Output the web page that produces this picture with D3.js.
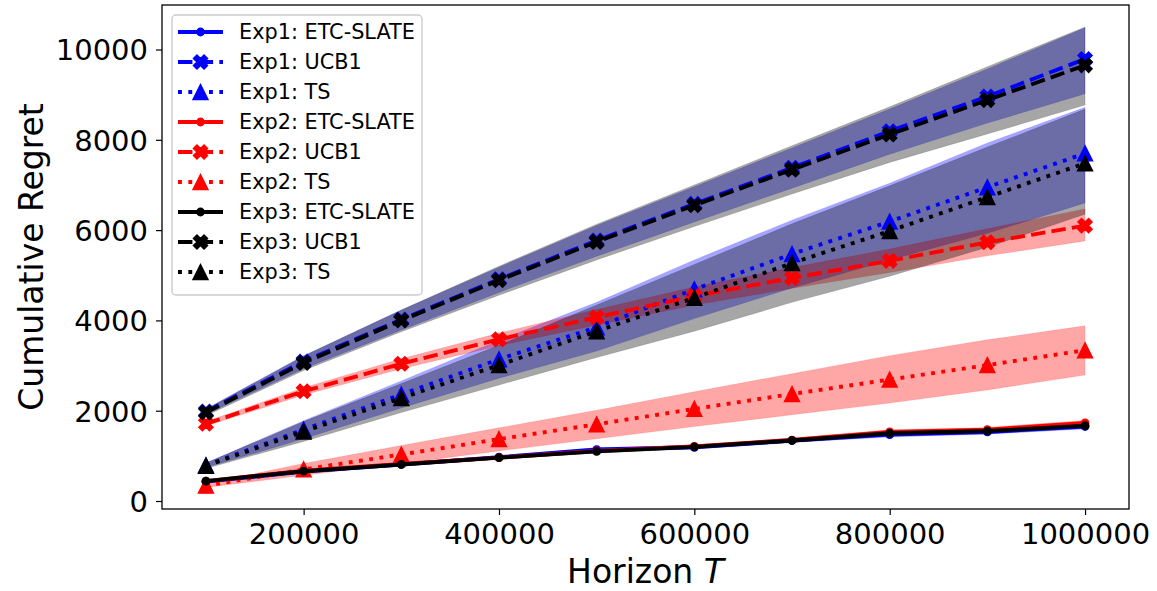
<!DOCTYPE html>
<html>
<head>
<meta charset="utf-8">
<script src="https://cdn.jsdelivr.net/npm/d3@7/dist/d3.min.js"></script>
<style>
  body { margin: 0; background: #fff; }
  text { font-family: "DejaVu Sans", sans-serif; }
</style>
</head>
<body>
<svg id="chart" width="1157" height="591"></svg>
<script>
// horizon values and ticks
var horizons = [100000, 200000, 300000, 400000, 500000, 600000, 700000, 800000, 900000, 1000000];
var xTicks = [200000, 400000, 600000, 800000, 1000000];
var yTicks = [0, 2000, 4000, 6000, 8000, 10000];

// Exp1
var exp1EtcMean = [430, 650, 810, 970, 1140, 1190, 1340, 1470, 1530, 1650];
var exp1EtcLo   = [410, 625, 780, 935, 1100, 1150, 1295, 1420, 1480, 1595];
var exp1EtcHi   = [450, 675, 840, 1005, 1180, 1230, 1385, 1520, 1580, 1705];
var exp1UcbMean = [1980, 3090, 4020, 4910, 5770, 6580, 7380, 8190, 8960, 9790];
var exp1UcbLo   = [1920, 2930, 3790, 4620, 5420, 6180, 6930, 7680, 8370, 9020];
var exp1UcbHi   = [2040, 3220, 4230, 5180, 6100, 6960, 7820, 8680, 9570, 10480];
var exp1TsMean  = [790, 1580, 2360, 3140, 3850, 4690, 5470, 6190, 6950, 7700];
var exp1TsLo    = [740, 1380, 2060, 2720, 3320, 4040, 4720, 5340, 5930, 6600];
var exp1TsHi    = [840, 1780, 2660, 3560, 4400, 5340, 6220, 7040, 7930, 8720];

// Exp2
var exp2EtcMean = [440, 670, 820, 960, 1110, 1210, 1350, 1530, 1580, 1730];
var exp2EtcLo   = [420, 645, 790, 925, 1070, 1170, 1305, 1480, 1530, 1675];
var exp2EtcHi   = [460, 695, 850, 995, 1150, 1250, 1395, 1580, 1630, 1785];
var exp2UcbMean = [1710, 2430, 3040, 3580, 4070, 4540, 4940, 5320, 5730, 6100];
var exp2UcbLo   = [1660, 2350, 2930, 3440, 3900, 4340, 4710, 5060, 5430, 5760];
var exp2UcbHi   = [1760, 2510, 3150, 3720, 4240, 4740, 5170, 5580, 6030, 6470];
var exp2TsMean  = [340, 700, 1030, 1370, 1700, 2040, 2370, 2690, 3010, 3340];
var exp2TsLo    = [300, 570, 830, 1110, 1380, 1650, 1910, 2170, 2460, 2790];
var exp2TsHi    = [380, 830, 1230, 1620, 2010, 2420, 2820, 3220, 3570, 3880];

// Exp3
var exp3EtcMean = [440, 660, 810, 960, 1100, 1200, 1340, 1500, 1550, 1670];
var exp3EtcLo   = [420, 635, 780, 925, 1060, 1160, 1295, 1450, 1500, 1615];
var exp3EtcHi   = [460, 685, 840, 995, 1140, 1240, 1385, 1550, 1600, 1725];
var exp3UcbMean = [1960, 3060, 4000, 4890, 5740, 6550, 7340, 8120, 8880, 9650];
var exp3UcbLo   = [1890, 2890, 3750, 4560, 5340, 6080, 6800, 7500, 8130, 8770];
var exp3UcbHi   = [2030, 3210, 4230, 5200, 6130, 7000, 7870, 8730, 9620, 10500];
var exp3TsMean  = [780, 1540, 2280, 3010, 3760, 4500, 5270, 5980, 6730, 7480];
var exp3TsLo    = [720, 1320, 1960, 2570, 3180, 3760, 4400, 4980, 5620, 6350];
var exp3TsHi    = [840, 1760, 2600, 3450, 4340, 5240, 6140, 6980, 7840, 8680];

(function() {
  var series = [
    {exp: "Exp1", alg: "ETC-SLATE", color: "#0000ff", mean: exp1EtcMean, lo: exp1EtcLo, hi: exp1EtcHi},
    {exp: "Exp1", alg: "UCB1",      color: "#0000ff", mean: exp1UcbMean, lo: exp1UcbLo, hi: exp1UcbHi},
    {exp: "Exp1", alg: "TS",        color: "#0000ff", mean: exp1TsMean,  lo: exp1TsLo,  hi: exp1TsHi},
    {exp: "Exp2", alg: "ETC-SLATE", color: "#ff0000", mean: exp2EtcMean, lo: exp2EtcLo, hi: exp2EtcHi},
    {exp: "Exp2", alg: "UCB1",      color: "#ff0000", mean: exp2UcbMean, lo: exp2UcbLo, hi: exp2UcbHi},
    {exp: "Exp2", alg: "TS",        color: "#ff0000", mean: exp2TsMean,  lo: exp2TsLo,  hi: exp2TsHi},
    {exp: "Exp3", alg: "ETC-SLATE", color: "#000000", mean: exp3EtcMean, lo: exp3EtcLo, hi: exp3EtcHi},
    {exp: "Exp3", alg: "UCB1",      color: "#000000", mean: exp3UcbMean, lo: exp3UcbLo, hi: exp3UcbHi},
    {exp: "Exp3", alg: "TS",        color: "#000000", mean: exp3TsMean,  lo: exp3TsLo,  hi: exp3TsHi}
  ];

  // line style per algorithm
  var lw = 3.9;
  var styles = {
    "ETC-SLATE": {dash: null, marker: "o"},
    "UCB1":      {dash: (3.7 * lw) + "," + (1.6 * lw), marker: "X"},
    "TS":        {dash: (1 * lw) + "," + (1.65 * lw), marker: "^"}
  };

  var pl = 162, pr = 1129, pt = 5, pb = 509;

  var svg = d3.select("#chart");

  var x = d3.scaleLinear().domain([55000, 1045000]).range([pl, pr]);
  var y = d3.scaleLinear().domain([-177, 10986]).range([pb, pt]);

  svg.append("defs").append("clipPath").attr("id", "plotclip")
    .append("rect").attr("x", pl).attr("y", pt)
    .attr("width", pr - pl).attr("height", pb - pt);

  var plot = svg.append("g").attr("clip-path", "url(#plotclip)");

  // shaded bands first
  var area = d3.area()
    .x(function(d) { return x(d.t); })
    .y0(function(d) { return y(d.lo); })
    .y1(function(d) { return y(d.hi); });

  series.forEach(function(s) {
    var pts = horizons.map(function(t, i) { return {t: t, lo: s.lo[i], hi: s.hi[i]}; });
    plot.append("path")
      .attr("d", area(pts))
      .attr("fill", s.color).attr("fill-opacity", 0.35)
      .attr("stroke", s.color).attr("stroke-opacity", 0.2).attr("stroke-width", 0.6);
  });

  // marker shapes
  function markerPath(kind, size) {
    if (kind === "^") {
      var h = size / 2;
      return "M0," + (-h) + "L" + (-h) + "," + h + "L" + h + "," + h + "Z";
    }
    var base = [[-1,-3],[-1,-1],[-3,-1],[-3,1],[-1,1],[-1,3],[1,3],[1,1],[3,1],[3,-1],[1,-1],[1,-3]];
    var c = Math.SQRT1_2;
    return "M" + base.map(function(p) {
      var px = p[0] * size / 6, py = p[1] * size / 6;
      return [(px - py) * c, (px + py) * c].join(",");
    }).join("L") + "Z";
  }

  function drawMarker(g, kind, color, cx, cy) {
    if (kind === "o") {
      g.append("circle").attr("cx", cx).attr("cy", cy).attr("r", 3.7)
        .attr("fill", color).attr("stroke", color).attr("stroke-width", 1.4);
    } else {
      g.append("path").attr("d", markerPath(kind, kind === "^" ? 15 : 15))
        .attr("transform", "translate(" + cx + "," + cy + ")")
        .attr("fill", color).attr("stroke", color).attr("stroke-width", 1.4);
    }
  }

  var line = d3.line()
    .x(function(d, i) { return x(horizons[i]); })
    .y(function(d) { return y(d); });

  series.forEach(function(s) {
    var st = styles[s.alg];
    var g = plot.append("g");
    g.append("path")
      .attr("d", line(s.mean))
      .attr("fill", "none")
      .attr("stroke", s.color)
      .attr("stroke-width", lw)
      .attr("stroke-dasharray", st.dash)
      .attr("stroke-linejoin", "round");
    s.mean.forEach(function(v, i) {
      drawMarker(g, st.marker, s.color, x(horizons[i]), y(v));
    });
  });

  // axes
  var xAxis = svg.append("g")
    .attr("transform", "translate(0," + pb + ")")
    .call(d3.axisBottom(x).tickValues(xTicks).tickSize(6).tickPadding(8).tickFormat(d3.format("d")));
  var yAxis = svg.append("g")
    .attr("transform", "translate(" + pl + ",0)")
    .call(d3.axisLeft(y).tickValues(yTicks).tickSize(6).tickPadding(8).tickFormat(d3.format("d")));
  [xAxis, yAxis].forEach(function(a) {
    a.select(".domain").remove();
    a.selectAll(".tick line").attr("stroke", "#000").attr("stroke-width", 1.2);
    a.selectAll(".tick text").attr("fill", "#000").style("font-size", "29px")
      .style("font-family", "'DejaVu Sans', sans-serif");
  });
  yAxis.selectAll(".tick text").attr("dy", "0.36em");

  svg.append("rect")
    .attr("x", pl).attr("y", pt)
    .attr("width", pr - pl).attr("height", pb - pt)
    .attr("fill", "none").attr("stroke", "#000").attr("stroke-width", 1.3);

  // axis titles
  var xt = svg.append("text")
    .attr("x", (pl + pr) / 2).attr("y", 583)
    .attr("text-anchor", "middle").style("font-size", "33px");
  xt.append("tspan").text("Horizon ");
  xt.append("tspan").style("font-style", "italic").text("T");

  svg.append("text")
    .attr("transform", "translate(43," + ((pt + pb) / 2) + ") rotate(-90)")
    .attr("text-anchor", "middle").style("font-size", "33px")
    .text("Cumulative Regret");

  // legend
  var legend = svg.append("g");
  legend.append("rect")
    .attr("x", 172).attr("y", 15).attr("width", 250).attr("height", 280)
    .attr("rx", 4).attr("fill", "#fff").attr("fill-opacity", 0.8)
    .attr("stroke", "#cccccc").attr("stroke-width", 1.4);

  series.forEach(function(s, i) {
    var st = styles[s.alg];
    var ry = 32 + i * 30;
    var row = legend.append("g");
    row.append("line")
      .attr("x1", 178).attr("x2", 223).attr("y1", ry).attr("y2", ry)
      .attr("stroke", s.color).attr("stroke-width", lw)
      .attr("stroke-dasharray", st.dash);
    drawMarker(row, st.marker, s.color, 200.5, ry);
    row.append("text")
      .attr("x", 239).attr("y", ry).attr("dy", "0.36em")
      .style("font-size", "20.8px").attr("fill", "#000")
      .text(s.exp + ": " + s.alg);
  });
})();
</script>
</body>
</html>
